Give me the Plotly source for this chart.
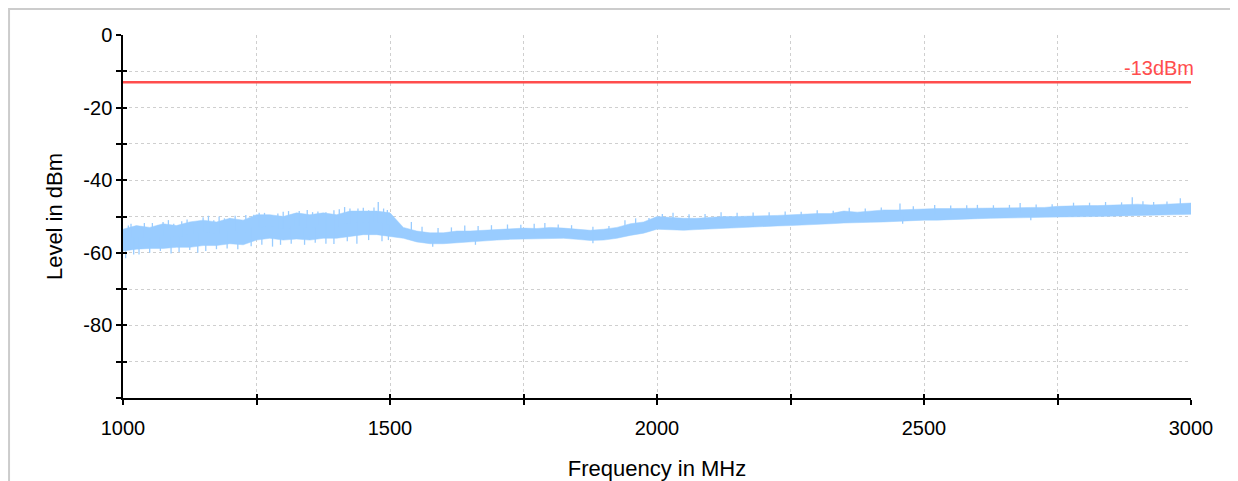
import plotly.graph_objects as go

freq = list(range(1000, 3001, 25))
level_max = [
    -53.5, -52.5, -53.0, -52.0, -52.5, -51.5, -51.0, -51.5, -50.5, -51.0,
    -49.5, -49.5, -50.0, -49.0, -49.5, -49.0, -49.5, -48.5, -48.5, -48.5,
    -49.0, -53.0, -54.0, -54.5, -54.5, -54.0, -54.0, -53.8, -53.5, -53.5,
    -53.2, -53.3, -53.0, -53.2, -53.5, -53.8, -53.5, -53.0, -52.0, -51.5,
    -50.0, -50.3, -50.5, -50.5, -50.2, -50.0, -50.0, -49.8, -49.8, -49.7,
    -49.5, -49.5, -49.2, -49.2, -48.5, -48.8, -48.5, -48.2, -48.2, -48.0,
    -48.0, -47.8, -47.8, -47.8, -47.6, -47.8, -47.8, -47.6, -47.5, -47.5,
    -47.2, -47.0, -47.0, -47.0, -46.8, -46.8, -46.6, -46.8, -46.6, -46.5,
    -46.3,
]
level_min = [
    -59.5, -59.0, -58.8, -58.8, -58.5, -58.5, -58.0, -58.0, -57.5, -57.8,
    -56.5, -56.0, -56.5, -56.2, -56.5, -56.0, -56.0, -55.5, -55.0, -55.0,
    -55.5, -56.0, -57.0, -57.5, -57.5, -57.2, -57.0, -56.8, -56.5, -56.3,
    -56.2, -56.2, -56.0, -56.0, -56.3, -56.6, -56.5, -56.0, -55.2, -54.6,
    -53.5, -53.6, -53.8, -53.6, -53.4, -53.2, -53.0, -53.0, -52.8, -52.6,
    -52.5, -52.4, -52.2, -52.0, -51.8, -51.8, -51.6, -51.5, -51.3, -51.2,
    -51.0, -51.0, -50.8, -50.8, -50.6, -50.5, -50.5, -50.4, -50.3, -50.2,
    -50.2, -50.0, -50.0, -50.0, -49.9, -49.8, -49.8, -49.7, -49.6, -49.5,
    -49.4,
]

# single-bin peaks poking out above the noise band
peak_freq = [1010, 1015, 1035, 1040, 1055, 1065, 1075, 1085, 1095, 1110,
             1120, 1130, 1150, 1160, 1170, 1180, 1190, 1200, 1210, 1230,
             1245, 1255, 1265, 1290, 1300, 1310, 1320, 1330, 1345, 1355,
             1365, 1380, 1395, 1405, 1415, 1425, 1440, 1450, 1460, 1470,
             1478, 1488, 1495,
             1540, 1560, 1590, 1615, 1640, 1665, 1690, 1720, 1745, 1770,
             1790, 1815, 1840, 1880, 1910, 1940, 1960, 1985, 2010, 2030,
             2060, 2090, 2120, 2150, 2180, 2210, 2240, 2270, 2300, 2330,
             2360, 2390, 2420, 2455, 2480, 2520, 2550, 2580, 2600, 2630,
             2660, 2680, 2710, 2740, 2780, 2810, 2840, 2870, 2890, 2910,
             2930, 2955, 2980]
peak_level = [-52.5, -52.0, -52.8, -51.8, -51.8, -52.5, -51.5, -51.0, -52.0, -51.3,
              -50.8, -51.5, -50.2, -49.8, -51.0, -50.0, -50.5, -50.5, -49.8, -49.6,
              -49.5, -49.0, -49.0, -49.2, -48.7, -48.5, -49.3, -48.5, -48.2, -48.8,
              -48.6, -48.8, -48.3, -48.0, -47.4, -47.8, -47.8, -47.6, -48.3, -47.5,
              -46.0, -47.8, -48.2,
              -51.5, -52.8, -53.2, -53.0, -52.5, -52.6, -52.4, -52.2, -52.3, -52.0,
              -51.8, -52.2, -52.4, -52.8, -52.6, -51.0, -50.5, -50.4, -49.3, -49.0,
              -49.4, -49.3, -48.8, -49.0, -48.9, -48.8, -48.6, -48.7, -48.3, -48.4,
              -47.6, -47.8, -47.5, -46.4, -47.2, -46.8, -47.0, -46.9, -46.8, -46.9,
              -46.8, -46.3, -46.7, -46.6, -46.2, -46.2, -46.0, -46.1, -44.7, -45.8,
              -46.0, -45.9, -45.0]

# single-bin dips below the noise band
dip_freq = [1005, 1020, 1030, 1050, 1070, 1090, 1105, 1125, 1140, 1155,
            1175, 1195, 1215, 1240, 1260, 1280, 1295, 1315, 1340, 1360,
            1380, 1395, 1420, 1438, 1460, 1485, 1497,
            1580, 1660, 1880, 2460, 2700]
dip_level = [-61.5, -60.5, -60.5, -60.0, -59.5, -60.2, -59.8, -59.2, -60.0, -59.5,
             -59.0, -58.8, -59.0, -58.2, -57.8, -58.3, -57.8, -57.5, -57.8, -57.2,
             -57.5, -57.6, -56.8, -57.5, -56.5, -56.8, -56.5,
             -58.3, -57.8, -57.4, -52.0, -51.0]

limit_level = -13
limit_label = "-13dBm"

y_ticks = [0, -20, -40, -60, -80]
x_ticks = [1000, 1500, 2000, 2500, 3000]

blue = "#99ccff"
red = "#ff4d4d"
font = "Liberation Sans, Arial, sans-serif"

fig = go.Figure()
fig.add_trace(go.Scatter(x=freq, y=level_min, mode="lines",
                         line=dict(width=0.5, color=blue), showlegend=False,
                         hoverinfo="skip"))
fig.add_trace(go.Scatter(x=freq, y=level_max, mode="lines", fill="tonexty",
                         fillcolor=blue, line=dict(width=0.5, color=blue),
                         showlegend=False, hoverinfo="skip"))


def band_mid(f):
    i = round((f - freq[0]) / 25)
    return (level_max[i] + level_min[i]) / 2


sx, sy = [], []
for f, v in list(zip(peak_freq, peak_level)) + list(zip(dip_freq, dip_level)):
    sx += [f, f, None]
    sy += [band_mid(f), v, None]
fig.add_trace(go.Scatter(x=sx, y=sy, mode="lines", line=dict(width=1.3, color=blue),
                         showlegend=False, hoverinfo="skip"))

fig.add_trace(go.Scatter(x=[freq[0], freq[-1]], y=[limit_level, limit_level],
                         mode="lines", line=dict(width=2.5, color=red),
                         showlegend=False))
fig.add_annotation(x=freq[-1], y=limit_level, text=limit_label, showarrow=False,
                   xanchor="right", yanchor="bottom", xshift=5, yshift=1,
                   font=dict(color=red, size=20, family=font))

# dummy trace on overlay axes so the ticks cross the axis lines
fig.add_trace(go.Scatter(x=[None], y=[None], xaxis="x2", yaxis="y2",
                         showlegend=False))

grid = dict(showgrid=True, gridcolor="#cfcfcf", griddash="dot", gridwidth=1)
tick = dict(ticklen=5, tickwidth=1.5, tickcolor="black")

# page body has an 8px margin, so the figure is sized to fit inside it
fig.update_layout(
    width=1230, height=473,
    margin=dict(l=115, r=47, t=27, b=83),
    paper_bgcolor="white", plot_bgcolor="white",
    font=dict(family=font, size=20, color="black"),
    showlegend=False,
    xaxis=dict(range=[1000, 3000], tickvals=x_ticks,
               ticktext=[str(v) for v in x_ticks],
               ticks="outside", **tick, automargin=False,
               showline=True, linecolor="black", linewidth=1.5,
               ticklabelstandoff=6, zeroline=False,
               minor=dict(dtick=250, tick0=1000, ticks="outside", **tick, **grid),
               title=dict(text="Frequency in MHz", standoff=26, font=dict(size=22)),
               **grid),
    yaxis=dict(range=[-100, 0], tickvals=y_ticks,
               ticktext=[str(v) for v in y_ticks],
               ticks="outside", **tick, automargin=False,
               showline=True, linecolor="black", linewidth=1.5, zeroline=False,
               minor=dict(dtick=10, tick0=0, ticks="outside", **tick, **grid),
               title=dict(text="Level in dBm", standoff=15, font=dict(size=22)),
               **grid),
    xaxis2=dict(range=[1000, 3000], overlaying="x", anchor="y", dtick=250, tick0=1000,
                ticks="inside", ticklen=4, tickwidth=1.5, tickcolor="black",
                automargin=False, showticklabels=False, showgrid=False,
                zeroline=False),
    yaxis2=dict(range=[-100, 0], overlaying="y", anchor="x", side="left", dtick=10,
                tick0=0, ticks="inside", ticklen=4, tickwidth=1.5, tickcolor="black",
                automargin=False, showticklabels=False, showgrid=False,
                zeroline=False),
    shapes=[dict(type="rect", xref="paper", yref="paper",
                 x0=-0.1067, x1=1.0375, y0=-0.3, y1=1.0716,
                 line=dict(color="#cccccc", width=2), layer="below")],
)

fig.write_html("out.html")
